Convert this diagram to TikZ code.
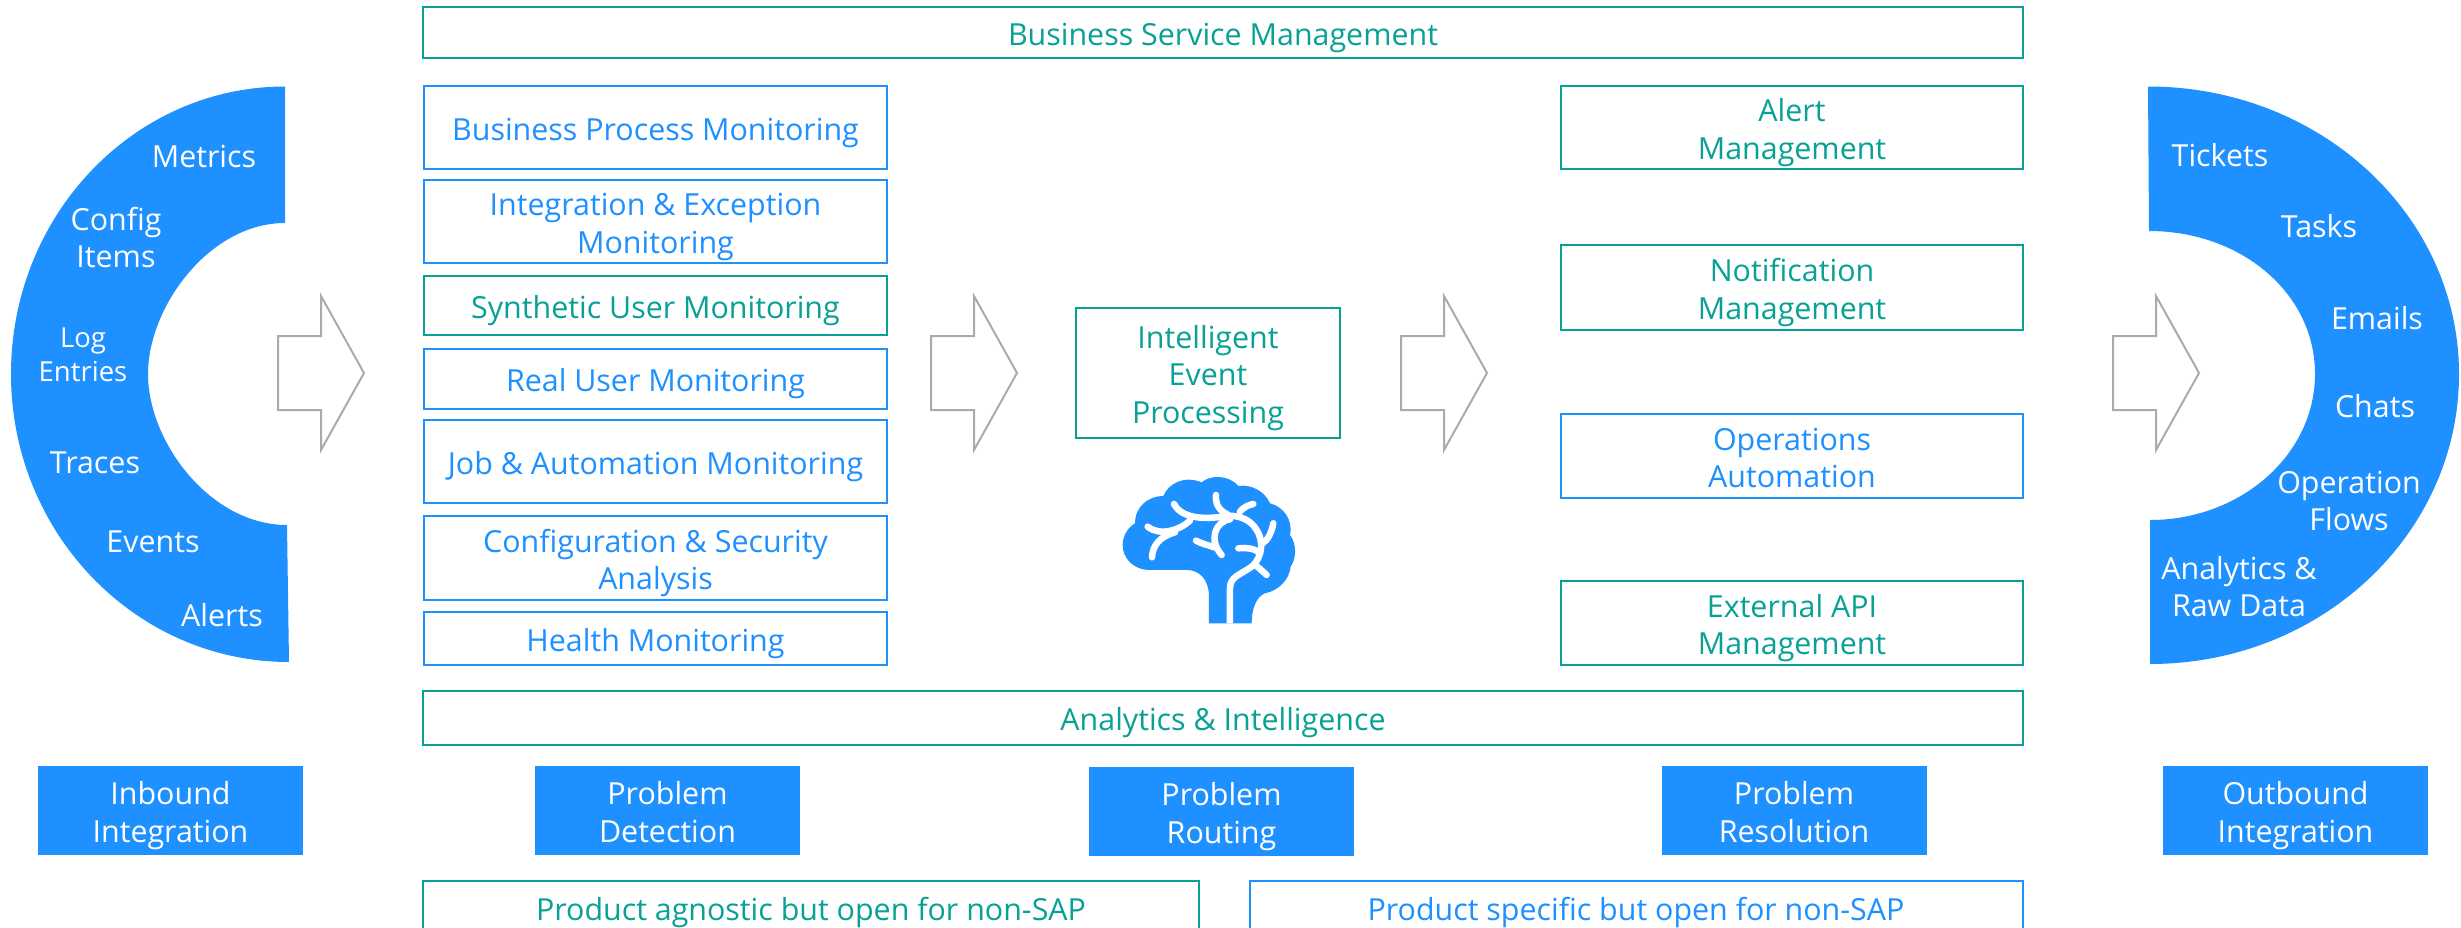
\documentclass[tikz,border=0pt]{standalone}
\usepackage{fontspec}
\setmainfont{Open Sans}
\definecolor{sapblue}{HTML}{1E90FF}
\definecolor{sapgreen}{HTML}{08A195}
\definecolor{arrowgrey}{HTML}{ABABAB}
\newcommand{\tx}[1]{\raisebox{-11.5pt}[0pt][0pt]{\begin{tabular}{@{}c@{}}#1\end{tabular}}}
\tikzset{
  basebox/.style={rectangle,inner sep=0pt,outer sep=0pt,align=center,line width=2.6pt,font=\fontsize{30.4}{37.5}\selectfont},
  gbox/.style={basebox,draw=sapgreen,text=sapgreen,fill=white},
  bbox/.style={basebox,draw=sapblue,text=sapblue,fill=white},
  fbox/.style={basebox,fill=sapblue,text=white,minimum width=265pt,minimum height=89pt},
  ringlabel/.style={inner sep=0pt,align=center,text=white,font=\fontsize{30.4}{37}\selectfont},
  leftcol/.style={minimum width=463pt},
  rightcol/.style={minimum width=462pt},
  vein/.style={draw=white,line width=6.5pt,line cap=round,line join=round},
  bigarrow/.pic={\draw[arrowgrey,line width=2pt,fill=white,line join=miter]
     (0,-37)--(43,-37)--(43,-77)--(86,0)--(43,77)--(43,37)--(0,37)--cycle;}
}
\begin{document}
\begin{tikzpicture}[x=1pt,y=-1pt]
\useasboundingbox (0,0) rectangle (2461,927);
\clip (0,0) rectangle (2461,927);
% rings
\fill[sapblue] (285,86.5) .. controls (134,86.5) and (11,215) .. (11,374)
   .. controls (11,533) and (135.5,662) .. (289,662) -- (287,525)
   .. controls (210,525) and (148,441.6) .. (148,374)
   .. controls (148,307) and (209.3,223) .. (285,223) -- cycle;
\fill[sapblue] (2148,86.5) .. controls (2320,86.5) and (2459,215) .. (2459,374)
   .. controls (2459,534) and (2321,664) .. (2150,664) -- (2150,520)
   .. controls (2241,520) and (2315,454.6) .. (2315,374)
   .. controls (2315,293) and (2241,231) .. (2149,231) -- cycle;
\node[ringlabel] (metrics) at (204,156) {Metrics};
\node[ringlabel] (config) at (116,238) {Config\\Items};
\node[ringlabel,font=\fontsize{27.5}{34}\selectfont] (log) at (83,355) {Log\\Entries};
\node[ringlabel] (traces) at (95,463) {Traces};
\node[ringlabel] (events) at (153,542) {Events};
\node[ringlabel] (alerts) at (222,615) {Alerts};
\node[ringlabel] (tickets) at (2220,155) {Tickets};
\node[ringlabel] (tasks) at (2319,226.5) {Tasks};
\node[ringlabel] (emails) at (2377,318) {Emails};
\node[ringlabel] (chats) at (2375,406) {Chats};
\node[ringlabel] (flows) at (2349,501) {Operation\\Flows};
\node[ringlabel] (analyticsraw) at (2239,587) {Analytics \&\\Raw Data};
% arrows
\pic at (278,373) {bigarrow};
\pic at (931,373) {bigarrow};
\pic at (1401,373) {bigarrow};
\pic at (2113,373) {bigarrow};
% wide bars
\node[gbox,minimum width=1600pt,minimum height=51pt] (bsm) at (1223,32.5) {\tx{Business Service Management}};
\node[gbox,minimum width=1600pt,minimum height=54pt] (ai) at (1223,718) {\tx{Analytics \& Intelligence}};
% left column
\node[bbox,leftcol,minimum height=83pt] (bpm) at (655.5,127.5) {\tx{Business Process Monitoring}};
\node[bbox,leftcol,minimum height=83pt] (iem) at (655.5,221.5) {\tx{Integration \& Exception\\Monitoring}};
\node[gbox,leftcol,minimum height=59pt] (sum) at (655.5,305.5) {\tx{Synthetic User Monitoring}};
\node[bbox,leftcol,minimum height=60pt] (rum) at (655.5,379) {\tx{Real User Monitoring}};
\node[bbox,leftcol,minimum height=83pt] (jam) at (655.5,461.5) {\tx{Job \& Automation Monitoring}};
\node[bbox,leftcol,minimum height=84pt] (csa) at (655.5,558) {\tx{Configuration \& Security\\Analysis}};
\node[bbox,leftcol,minimum height=53pt] (hm) at (655.5,638.5) {\tx{Health Monitoring}};
% right column
\node[gbox,rightcol,minimum height=83pt] (am) at (1792,127.5) {\tx{Alert\\Management}};
\node[gbox,rightcol,minimum height=85pt] (nm) at (1792,287.5) {\tx{Notification\\Management}};
\node[bbox,rightcol,minimum height=84pt] (oa) at (1792,456) {\tx{Operations\\Automation}};
\node[gbox,rightcol,minimum height=84pt] (eam) at (1792,623) {\tx{External API\\Management}};
% centre
\node[gbox,minimum width=264pt,minimum height=130pt] (iep) at (1208,373) {\tx{Intelligent\\Event\\Processing}};
% brain
\begin{scope}[shift={(1080,280)},x=0.3333pt,y=-0.3333pt]
\fill[sapblue] (387,1030) -- (387,950) .. controls (387,900) and (360,870) .. (320,870)
  -- (210,870) .. controls (160,870) and (128,835) .. (128,795)
  .. controls (128,765) and (145,742) .. (165,730)
  .. controls (165,680) and (205,648) .. (250,648)
  .. controls (265,612) and (310,585) .. (365,607)
  .. controls (390,585) and (445,583) .. (475,618)
  .. controls (515,612) and (555,635) .. (570,670)
  .. controls (610,680) and (640,720) .. (630,765)
  .. controls (650,790) and (650,835) .. (632,860)
  .. controls (628,900) and (595,932) .. (555,940)
  .. controls (530,950) and (515,985) .. (515,1030) -- cycle;
\draw[vein,line cap=butt] (450,1030) -- (450,925) .. controls (450,890) and (480,885) .. (515,860)
  .. controls (550,830) and (550,780) .. (530,750)
  .. controls (510,715) and (470,705) .. (440,708)
  .. controls (400,715) and (310,725) .. (282,672);
\draw[vein] (282,672) -- (283,673);
\draw[vein] (203,740) .. controls (240,770) and (300,750) .. (330,722);
\draw[vein] (216,832) .. controls (218,795) and (240,770) .. (285,757);
\draw[vein] (408,645) .. controls (405,680) and (425,695) .. (445,705);
\draw[vein] (480,695) .. controls (490,682) and (505,675) .. (520,672);
\draw[vein] (450,718) .. controls (405,725) and (385,780) .. (425,825);
\draw[vein] (348,782) .. controls (365,792) and (385,795) .. (405,803);
\draw[vein] (475,805) .. controls (500,803) and (525,805) .. (540,820);
\draw[vein] (580,730) .. controls (575,755) and (565,780) .. (548,790);
\draw[vein] (530,858) -- (560,885);
\end{scope}
% filled labels
\node[fbox] (inbound) at (170.5,810.5) {\tx{Inbound\\Integration}};
\node[fbox] (detection) at (667.5,810.5) {\tx{Problem\\Detection}};
\node[fbox] (routing) at (1221.5,811.5) {\tx{Problem\\Routing}};
\node[fbox] (resolution) at (1794,810.5) {\tx{Problem\\Resolution}};
\node[fbox] (outbound) at (2295.5,810.5) {\tx{Outbound\\Integration}};
% bottom bars
\node[gbox,minimum width=776pt,minimum height=100pt,anchor=north west] (agnostic) at (423,881) {};
\node[bbox,minimum width=773pt,minimum height=100pt,anchor=north west] (specific) at (1250,881) {};
\node[basebox,text=sapgreen] (agnostictext) at (811,908) {\tx{Product agnostic but open for non-SAP}};
\node[basebox,text=sapblue] (specifictext) at (1636,908) {\tx{Product specific but open for non-SAP}};
\end{tikzpicture}
\end{document}
